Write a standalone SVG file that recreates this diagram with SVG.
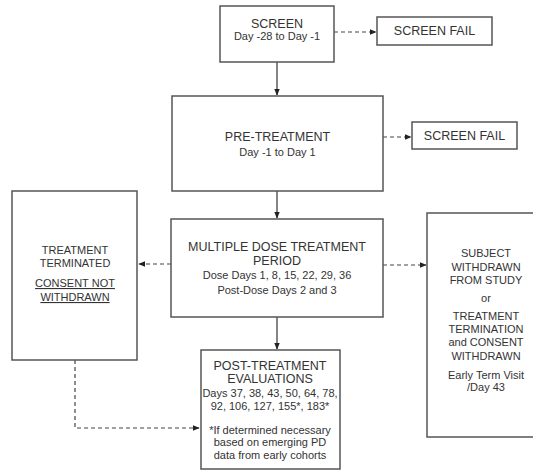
<svg xmlns="http://www.w3.org/2000/svg" width="533" height="471" viewBox="0 0 533 471">
<defs>
<marker id="ah" viewBox="0 0 10 10" refX="9" refY="5" markerWidth="7" markerHeight="7" orient="auto" markerUnits="userSpaceOnUse">
<path d="M0,1 L10,5 L0,9 z" fill="#222"/>
</marker>
<style>
.box{fill:#fff;stroke:#555;stroke-width:1.5}
.t{font-family:"Liberation Sans",Arial,sans-serif;font-size:11px;fill:#333;text-anchor:middle}
.h{font-size:12.5px}
.solid{stroke:#333;stroke-width:1.2;fill:none}
.dash{stroke:#444;stroke-width:1.2;fill:none;stroke-dasharray:4 3}
</style>
</defs>
<rect width="533" height="471" fill="#fff"/>
<g id="connectors">
<line class="dash" x1="334" y1="32" x2="376" y2="32" marker-end="url(#ah)"/>
<line class="solid" x1="277" y1="62" x2="277" y2="95" marker-end="url(#ah)"/>
<line class="dash" x1="383" y1="137" x2="411" y2="137" marker-end="url(#ah)"/>
<line class="solid" x1="277" y1="191" x2="277" y2="218" marker-end="url(#ah)"/>
<line class="dash" x1="171" y1="264" x2="139" y2="264" marker-end="url(#ah)"/>
<line class="dash" x1="383" y1="265" x2="426" y2="265" marker-end="url(#ah)"/>
<line class="solid" x1="277" y1="317" x2="277" y2="349" marker-end="url(#ah)"/>
<polyline class="dash" points="75,360 75,428 199,428" marker-end="url(#ah)"/>
</g>
<g id="screen">
<rect class="box" x="220" y="6" width="114" height="56"/>
<text class="t h" x="277" y="28">SCREEN</text>
<text class="t" x="277" y="40">Day -28 to Day -1</text>
</g>
<g id="screen-fail-1">
<rect class="box" x="377" y="17" width="115" height="28"/>
<text class="t h" x="434.5" y="35">SCREEN FAIL</text>
</g>
<g id="pre-treatment">
<rect class="box" x="172" y="96" width="211" height="95"/>
<text class="t h" x="277.5" y="141">PRE-TREATMENT</text>
<text class="t" x="277.5" y="156">Day -1 to Day 1</text>
</g>
<g id="screen-fail-2">
<rect class="box" x="412" y="122" width="105" height="27"/>
<text class="t h" x="464.5" y="140">SCREEN FAIL</text>
</g>
<g id="multiple-dose">
<rect class="box" x="171" y="219" width="212" height="98"/>
<text class="t h" x="277" y="251">MULTIPLE DOSE TREATMENT</text>
<text class="t h" x="277" y="265">PERIOD</text>
<text class="t" x="277" y="279">Dose Days 1, 8, 15, 22, 29, 36</text>
<text class="t" x="277" y="294">Post-Dose Days 2 and 3</text>
</g>
<g id="treatment-terminated">
<rect class="box" x="12" y="191" width="125" height="169"/>
<text class="t" x="75" y="254">TREATMENT</text>
<text class="t" x="75" y="267">TERMINATED</text>
<text class="t" x="75" y="287" text-decoration="underline">CONSENT NOT</text>
<text class="t" x="75" y="301" text-decoration="underline">WITHDRAWN</text>
</g>
<g id="withdrawn">
<rect class="box" x="427" y="213" width="110" height="224"/>
<text class="t" x="486" y="257">SUBJECT</text>
<text class="t" x="486" y="271">WITHDRAWN</text>
<text class="t" x="486" y="284">FROM STUDY</text>
<text class="t" x="486" y="302">or</text>
<text class="t" x="486" y="320">TREATMENT</text>
<text class="t" x="486" y="333">TERMINATION</text>
<text class="t" x="486" y="346">and CONSENT</text>
<text class="t" x="486" y="360">WITHDRAWN</text>
<text class="t" x="486" y="379">Early Term Visit</text>
<text class="t" x="486" y="391">/Day 43</text>
</g>
<g id="post-treatment">
<rect class="box" x="201" y="350" width="139" height="119"/>
<text class="t h" x="270" y="370">POST-TREATMENT</text>
<text class="t h" x="270" y="383">EVALUATIONS</text>
<text class="t" x="270" y="397">Days 37, 38, 43, 50, 64, 78,</text>
<text class="t" x="270" y="410">92, 106, 127, 155*, 183*</text>
<text class="t" x="270" y="434">*If determined necessary</text>
<text class="t" x="270" y="446">based on emerging PD</text>
<text class="t" x="270" y="459">data from early cohorts</text>
</g>
</svg>
